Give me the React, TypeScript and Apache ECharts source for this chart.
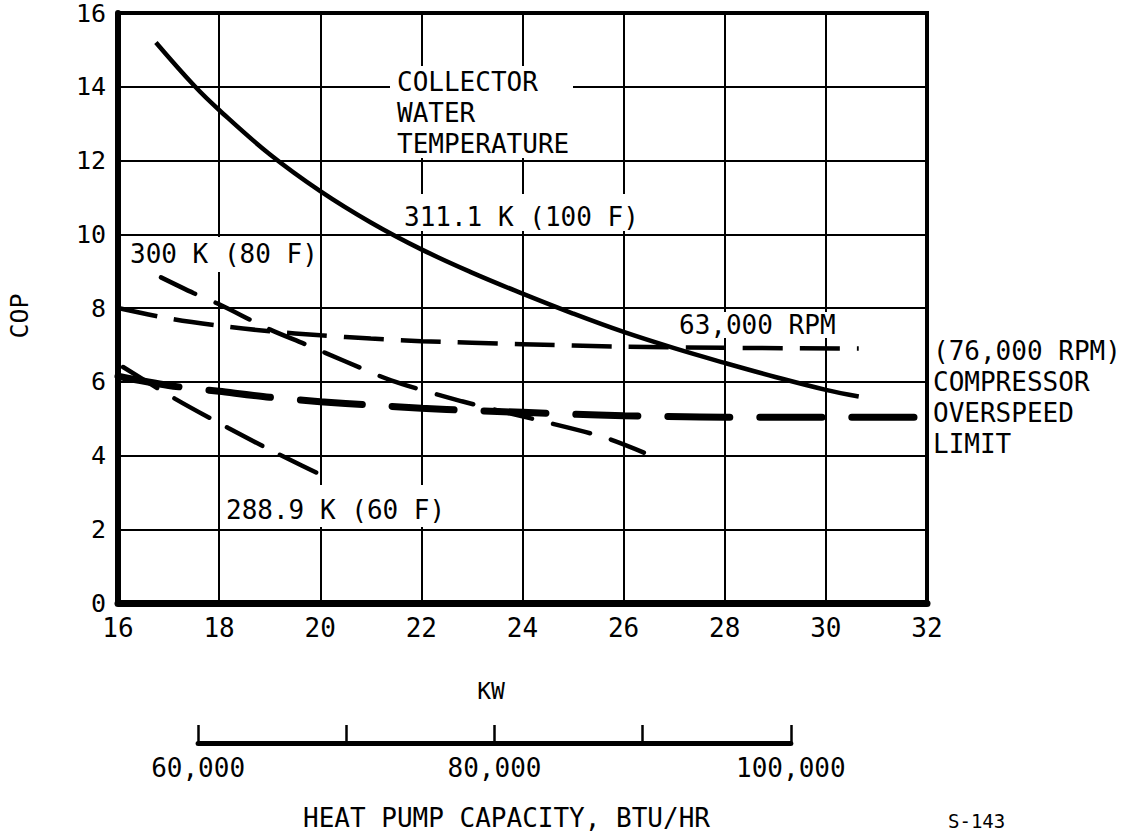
import { useEffect, useRef } from 'react';
import * as echarts from 'echarts';

// ---- axis ranges ----
const KW_MIN = 16;
const KW_MAX = 32;
const KW_STEP = 2;
const COP_MIN = 0;
const COP_MAX = 16;
const COP_STEP = 2;
const BTU_PER_KW = 3412.14;
const BTU_TICKS = [60000, 70000, 80000, 90000, 100000];
const BTU_LABELLED = [60000, 80000, 100000];

// ---- curves: [kW, COP] ----
const water311K: [number, number][] = [
  [16.75, 15.2], [17.5, 14.04], [18, 13.37], [19, 12.17], [20, 11.17], [21, 10.32],
  [22, 9.59], [23, 8.96], [24, 8.39], [25, 7.85], [26, 7.35], [27, 6.91],
  [28, 6.51], [29, 6.13], [30, 5.78], [30.65, 5.6],
];
const rpm63000: [number, number][] = [
  [16, 8.0], [17, 7.72], [18, 7.52], [19, 7.37], [20, 7.26], [21, 7.17],
  [22, 7.1], [24, 7.02], [26, 6.95], [28, 6.92], [30.65, 6.9],
];
const rpm76000: [number, number][] = [
  [16, 6.15], [17, 5.9], [18, 5.74], [19, 5.58], [20, 5.46], [21, 5.37],
  [22, 5.28], [23, 5.22], [24, 5.17], [25, 5.12], [26, 5.08], [28, 5.04],
  [30, 5.04], [32, 5.04],
];
const water300K: [number, number][] = [
  [16.85, 8.83], [17.5, 8.4], [18, 8.1], [19, 7.42], [19.7, 7.02], [20.5, 6.55],
  [21.4, 6.04], [22.8, 5.47], [24.3, 4.96], [25.6, 4.5], [26.4, 4.08],
];
const water2889K: [number, number][] = [
  [16.1, 6.4], [17.14, 5.53], [18.19, 4.74], [19.17, 4.04], [20.24, 3.33],
];

// ---- texts ----
const COLLECTOR_LINES = ['COLLECTOR', 'WATER', 'TEMPERATURE'];
const LABEL_311 = '311.1 K (100 F)';
const LABEL_300 = '300 K (80 F)';
const LABEL_2889 = '288.9 K (60 F)';
const LABEL_63000 = '63,000 RPM';
const LIMIT_LINES = ['(76,000 RPM)', 'COMPRESSOR', 'OVERSPEED', 'LIMIT'];
const Y_NAME = 'COP';
const X_NAME = 'KW';
const BTU_NAME = 'HEAT PUMP CAPACITY, BTU/HR';
const FIG_ID = 'S-143';

const FONT = 'DejaVu Sans Mono';

export default function App() {
  const ref = useRef<HTMLDivElement>(null);

  useEffect(() => {
    if (!ref.current) return;
    const chart = echarts.init(ref.current, null, { renderer: 'svg' });

    const L = 118;
    const T = 13;
    const W = 809;
    const H = 590;
    const kwToPx = (kw: number) => L + ((kw - KW_MIN) / (KW_MAX - KW_MIN)) * W;
    const btuStart = kwToPx(BTU_TICKS[0] / BTU_PER_KW);
    const btuEnd = kwToPx(BTU_TICKS[BTU_TICKS.length - 1] / BTU_PER_KW);

    const txt = (t: string, x: number, y: number, extra: any = {}) => ({
      type: 'text',
      x,
      y,
      z: 120,
      rotation: extra.rotation || 0,
      style: {
        text: t,
        fontFamily: FONT,
        fontSize: extra.fontSize || 26,
        fill: '#000',
        align: extra.align || 'left',
        textAlign: extra.align || 'left',
        verticalAlign: 'middle',
        textVerticalAlign: 'middle',
      },
    });
    const box = (x: number, y: number, w: number, h: number) => ({
      type: 'rect',
      z: 110,
      shape: { x, y, width: w, height: h },
      style: { fill: '#fff' },
    });

    const black = '#000';

    chart.setOption({
      animation: false,
      backgroundColor: '#fff',
      grid: [
        {
          left: L,
          top: T,
          width: W,
          height: H,
          show: true,
          borderColor: black,
          borderWidth: 4,
          backgroundColor: 'transparent',
        },
        {
          left: btuStart,
          width: btuEnd - btuStart,
          top: 700,
          height: 43,
        },
      ],
      xAxis: [
        {
          type: 'value',
          gridIndex: 0,
          min: KW_MIN,
          max: KW_MAX,
          interval: KW_STEP,
          axisLine: { show: true, lineStyle: { color: black, width: 7 } },
          axisTick: { show: false },
          axisLabel: { color: black, fontFamily: FONT, fontSize: 26, margin: 12 },
          splitLine: { show: true, lineStyle: { color: black, width: 2 } },
        },
        {
          type: 'value',
          gridIndex: 1,
          min: BTU_TICKS[0],
          max: BTU_TICKS[BTU_TICKS.length - 1],
          interval: BTU_TICKS[1] - BTU_TICKS[0],
          axisLine: { show: true, onZero: false, lineStyle: { color: black, width: 5 } },
          axisTick: { show: true, inside: true, length: 18, lineStyle: { color: black, width: 2.5 } },
          axisLabel: {
            color: black,
            fontFamily: FONT,
            fontSize: 26,
            margin: 12,
            formatter: (v: number) => (BTU_LABELLED.includes(v) ? v.toLocaleString('en-US') : ''),
          },
          splitLine: { show: false },
        },
      ],
      yAxis: [
        {
          type: 'value',
          gridIndex: 0,
          min: COP_MIN,
          max: COP_MAX,
          interval: COP_STEP,
          axisLine: { show: true, lineStyle: { color: black, width: 6 } },
          axisTick: { show: false },
          axisLabel: {
            color: black,
            fontFamily: FONT,
            fontSize: 25,
            margin: 12,
            padding: [10, 0, 0, 0],
          },
          splitLine: { show: true, lineStyle: { color: black, width: 2 } },
        },
        { type: 'value', gridIndex: 1, min: 0, max: 1, show: false },
      ],
      series: [
        {
          name: '311.1 K (100 F)',
          type: 'line',
          data: water311K,
          smooth: 0.4,
          showSymbol: false,
          lineStyle: { color: black, width: 4.5, type: 'solid' },
          z: 5,
        },
        {
          name: '63,000 RPM',
          type: 'line',
          data: rpm63000,
          smooth: 0.3,
          showSymbol: false,
          lineStyle: { color: black, width: 4.5, type: [40, 17], cap: 'butt' },
          z: 5,
        },
        {
          name: '76,000 RPM',
          type: 'line',
          data: rpm76000,
          smooth: 0.3,
          showSymbol: false,
          lineStyle: { color: black, width: 7, type: [62, 30], cap: 'round' },
          z: 5,
        },
        {
          name: '300 K (80 F)',
          type: 'line',
          data: water300K,
          smooth: 0.3,
          showSymbol: false,
          lineStyle: { color: black, width: 4.5, type: [38, 22], cap: 'round' },
          z: 5,
        },
        {
          name: '288.9 K (60 F)',
          type: 'line',
          data: water2889K,
          smooth: 0.3,
          showSymbol: false,
          lineStyle: { color: black, width: 4.5, type: [40, 20], cap: 'round' },
          z: 5,
        },
      ],
      graphic: [
        box(390, 66, 183, 92),
        box(400, 194, 240, 37),
        box(124, 237, 191, 35),
        box(222, 485, 226, 42),
        box(676, 312, 168, 26),
        txt(COLLECTOR_LINES[0], 397, 82),
        txt(COLLECTOR_LINES[1], 397, 113),
        txt(COLLECTOR_LINES[2], 397, 144),
        txt(LABEL_311, 404, 217),
        txt(LABEL_300, 130, 254),
        txt(LABEL_2889, 226, 510),
        txt(LABEL_63000, 679, 325),
        txt(LIMIT_LINES[0], 933, 351),
        txt(LIMIT_LINES[1], 933, 382),
        txt(LIMIT_LINES[2], 933, 413),
        txt(LIMIT_LINES[3], 933, 444),
        txt(Y_NAME, 19, 316, { rotation: Math.PI / 2, align: 'center', fontSize: 25 }),
        txt(X_NAME, 491, 691, { align: 'center', fontSize: 23 }),
        txt(BTU_NAME, 303, 818),
        txt(FIG_ID, 948, 821, { fontSize: 19 }),
      ],
    });

    return () => chart.dispose();
  }, []);

  return (
    <div
      ref={ref}
      style={{ position: 'fixed', left: 0, top: 0, width: 1133, height: 834, background: '#fff' }}
    />
  );
}
